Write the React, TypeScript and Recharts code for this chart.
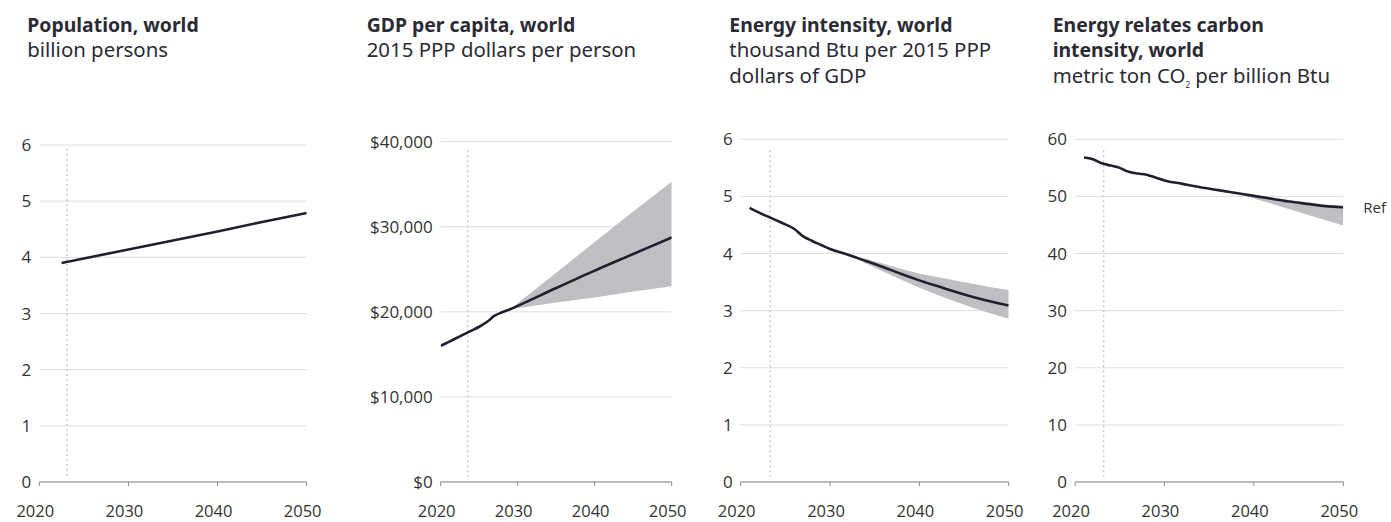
import React from 'react';
import {
  ComposedChart,
  Line,
  Area,
  XAxis,
  YAxis,
  CartesianGrid,
  ReferenceLine,
  ReferenceDot,
} from 'recharts';

// ---------- data ----------
const xTicks = [2020, 2030, 2040, 2050];

// Population, world (billion persons)
const popYears = [2022.5, 2025, 2030, 2035, 2040, 2045, 2050];
const popValues = [3.9, 3.98, 4.14, 4.3, 4.46, 4.63, 4.79];
const popTicks = [0, 1, 2, 3, 4, 5, 6];

// GDP per capita, world (2015 PPP dollars per person)
const gdpYears = [2020, 2021, 2022, 2023, 2024, 2025, 2026, 2027, 2028, 2029, 2030, 2035, 2040, 2045, 2050];
const gdpValues = [16000, 16450, 16900, 17350, 17800, 18250, 18800, 19550, 19950, 20300, 20700, 22800, 24850, 26800, 28750];
const gdpBandYears = [2029, 2030, 2035, 2040, 2045, 2050];
const gdpBandLow = [20300, 20430, 21100, 21700, 22400, 23000];
const gdpBandHigh = [20300, 21000, 24600, 28200, 31800, 35300];
const gdpTicks = [0, 10000, 20000, 30000, 40000];

// Energy intensity, world (thousand Btu per 2015 PPP dollars of GDP)
const eiYears = [2021, 2022, 2023, 2024, 2025, 2026, 2027, 2028, 2029, 2030, 2032, 2034, 2036, 2038, 2040, 2042, 2044, 2046, 2048, 2050];
const eiValues = [4.8, 4.72, 4.65, 4.58, 4.51, 4.43, 4.3, 4.22, 4.15, 4.08, 3.98, 3.87, 3.76, 3.64, 3.53, 3.43, 3.33, 3.24, 3.16, 3.09];
const eiBandYears = [2032, 2034, 2036, 2038, 2040, 2042, 2044, 2046, 2048, 2050];
const eiBandLow = [3.98, 3.83, 3.68, 3.54, 3.4, 3.28, 3.16, 3.05, 2.95, 2.86];
const eiBandHigh = [3.98, 3.91, 3.82, 3.73, 3.65, 3.59, 3.53, 3.47, 3.41, 3.36];
const eiTicks = [0, 1, 2, 3, 4, 5, 6];

// Energy related carbon intensity, world (metric ton CO2 per billion Btu)
const ciYears = [2021, 2022, 2023, 2024, 2025, 2026, 2027, 2028, 2029, 2030, 2032, 2034, 2036, 2038, 2040, 2042, 2044, 2046, 2048, 2050];
const ciValues = [56.8, 56.5, 55.8, 55.4, 55.0, 54.3, 54.0, 53.8, 53.3, 52.8, 52.2, 51.6, 51.1, 50.6, 50.1, 49.6, 49.1, 48.7, 48.3, 48.1];
const ciBandYears = [2038, 2040, 2042, 2044, 2046, 2048, 2050];
const ciBandLow = [50.6, 49.65, 48.7, 47.75, 46.8, 45.85, 44.9];
const ciBandHigh = [50.6, 50.1, 49.6, 49.1, 48.7, 48.3, 48.1];
const ciTicks = [0, 10, 20, 30, 40, 50, 60];

// history / projection divider (year)
const dividerYears = [2023.1, 2023.5, 2023.3, 2023.2];

// ---------- helpers ----------
type Row = { year: number; v: number; band?: [number, number] };

function buildRows(
  years: number[],
  values: number[],
  bandYears: number[] = [],
  low: number[] = [],
  high: number[] = []
): Row[] {
  return years.map((y, i) => {
    const bi = bandYears.indexOf(y);
    const row: Row = { year: y, v: values[i] };
    if (bi >= 0) row.band = [low[bi], high[bi]];
    return row;
  });
}

const popData = buildRows(popYears, popValues);
const gdpData = buildRows(gdpYears, gdpValues, gdpBandYears, gdpBandLow, gdpBandHigh);
const eiData = buildRows(eiYears, eiValues, eiBandYears, eiBandLow, eiBandHigh);
const ciData = buildRows(ciYears, ciValues, ciBandYears, ciBandLow, ciBandHigh);

const LINE = '#1f1f2e';
const BAND = '#bfbfc3';
const GRID = '#dddddd';
const AXIS = '#8a8a8a';
const TICK = '#333333';
const TEXT = '#2b2b36';
const TICK_FONT = '"Open Sans", sans-serif';

type PanelProps = {
  left: number;
  width: number;
  top: number;
  yAxisWidth: number;
  right: number;
  data: Row[];
  yTicks: number[];
  yFormat?: (v: number) => string;
  divider: number;
  segTop: number;
  segBottom: number;
  curve: 'linear' | 'monotone';
  hasBand: boolean;
  refLabel?: { x: number; y: number; text: string };
};

function Panel(p: PanelProps) {
  const yMax = p.yTicks[p.yTicks.length - 1];
  return (
    <div style={{ position: 'absolute', left: p.left, top: 0, width: p.width, height: 522 }}>
      <ComposedChart
        width={p.width}
        height={522}
        data={p.data}
        margin={{ top: p.top, right: p.right, bottom: 10, left: 0 }}
      >
        <CartesianGrid horizontal vertical={false} stroke={GRID} strokeWidth={1} />
        <XAxis
          dataKey="year"
          type="number"
          domain={[2020, 2050]}
          ticks={xTicks}
          interval={0}
          allowDataOverflow
          height={30}
          stroke={AXIS}
          tickSize={4}
          tickMargin={19}
          tick={{ fill: TICK, fontSize: 16.5, dx: -4, fontFamily: TICK_FONT }}
        />
        <YAxis
          type="number"
          domain={[0, yMax]}
          ticks={p.yTicks}
          interval={0}
          width={p.yAxisWidth}
          axisLine={false}
          tickLine={false}
          tickFormatter={p.yFormat}
          tick={{ fill: TICK, fontSize: 17, fontFamily: TICK_FONT }}
        />
        <ReferenceLine
          segment={[
            { x: p.divider, y: p.segTop },
            { x: p.divider, y: p.segBottom },
          ]}
          stroke="#c9c9c9"
          strokeWidth={1.5}
          strokeDasharray="2 3"
        />
        {p.hasBand && (
          <Area
            dataKey="band"
            type="linear"
            fill={BAND}
            fillOpacity={1}
            stroke="none"
            isAnimationActive={false}
            activeDot={false}
          />
        )}
        <Line
          dataKey="v"
          type={p.curve}
          stroke={LINE}
          strokeWidth={2.6}
          dot={false}
          activeDot={false}
          isAnimationActive={false}
        />
        {p.refLabel && (
          <ReferenceDot
            x={p.refLabel.x}
            y={p.refLabel.y}
            r={1}
            fill="none"
            stroke="none"
            label={{
              value: p.refLabel.text,
              position: 'right',
              offset: 19,
              fill: TICK,
              fontSize: 15,
              fontFamily: TICK_FONT,
            }}
          />
        )}
      </ComposedChart>
    </div>
  );
}

const TITLE_FONT = '"Noto Sans", sans-serif';

function Titles() {
  const bold = { fontFamily: TITLE_FONT, fontWeight: 700, fontSize: 19.4, fill: TEXT } as const;
  const reg = { fontFamily: TITLE_FONT, fontWeight: 400, fontSize: 20.4, fill: TEXT } as const;
  return (
    <svg width={1391} height={110} style={{ position: 'absolute', left: 0, top: 0 }}>
      <text x={27.3} y={31.5} {...bold}>Population, world</text>
      <text x={27.3} y={57} {...reg}>billion persons</text>

      <text x={366.7} y={31.5} {...bold}>GDP per capita, world</text>
      <text x={366.7} y={57} {...reg}>2015 PPP dollars per person</text>

      <text x={729.3} y={31.5} {...bold}>Energy intensity, world</text>
      <text x={729.3} y={57} {...reg}>thousand Btu per 2015 PPP</text>
      <text x={729.3} y={82.5} {...reg}>dollars of GDP</text>

      <text x={1052.7} y={31.5} {...bold}>Energy relates carbon</text>
      <text x={1052.7} y={57} {...bold}>intensity, world</text>
      <text x={1052.7} y={82.5} {...reg}>
        metric ton CO
        <tspan fontSize={8} dy={5}>2</tspan>
        <tspan dy={-5}> per billion Btu</tspan>
      </text>
    </svg>
  );
}

export default function App() {
  return (
    <div
      style={{
        position: 'absolute',
        left: 0,
        top: 0,
        width: 1391,
        height: 522,
        background: '#ffffff',
        overflow: 'hidden',
      }}
    >
      <Titles />
      <Panel
        left={0}
        width={340}
        top={145}
        yAxisWidth={39.3}
        right={33.3}
        data={popData}
        yTicks={popTicks}
        divider={dividerYears[0]}
        segTop={5.93}
        segBottom={0.09}
        curve="linear"
        hasBand={false}
      />
      <Panel
        left={350}
        width={350}
        top={141.7}
        yAxisWidth={90.7}
        right={28.3}
        data={gdpData}
        yTicks={gdpTicks}
        yFormat={(v) => '$' + v.toLocaleString('en-US')}
        divider={dividerYears[1]}
        segTop={39000}
        segBottom={600}
        curve="monotone"
        hasBand
      />
      <Panel
        left={700}
        width={340}
        top={139.3}
        yAxisWidth={40.7}
        right={31.3}
        data={eiData}
        yTicks={eiTicks}
        divider={dividerYears[2]}
        segTop={5.81}
        segBottom={0.09}
        curve="monotone"
        hasBand
      />
      <Panel
        left={1040}
        width={351}
        top={139.3}
        yAxisWidth={35}
        right={47.7}
        data={ciData}
        yTicks={ciTicks}
        divider={dividerYears[3]}
        segTop={58.1}
        segBottom={0.9}
        curve="monotone"
        hasBand
        refLabel={{ x: 2050, y: ciValues[ciValues.length - 1], text: 'Ref' }}
      />
    </div>
  );
}
